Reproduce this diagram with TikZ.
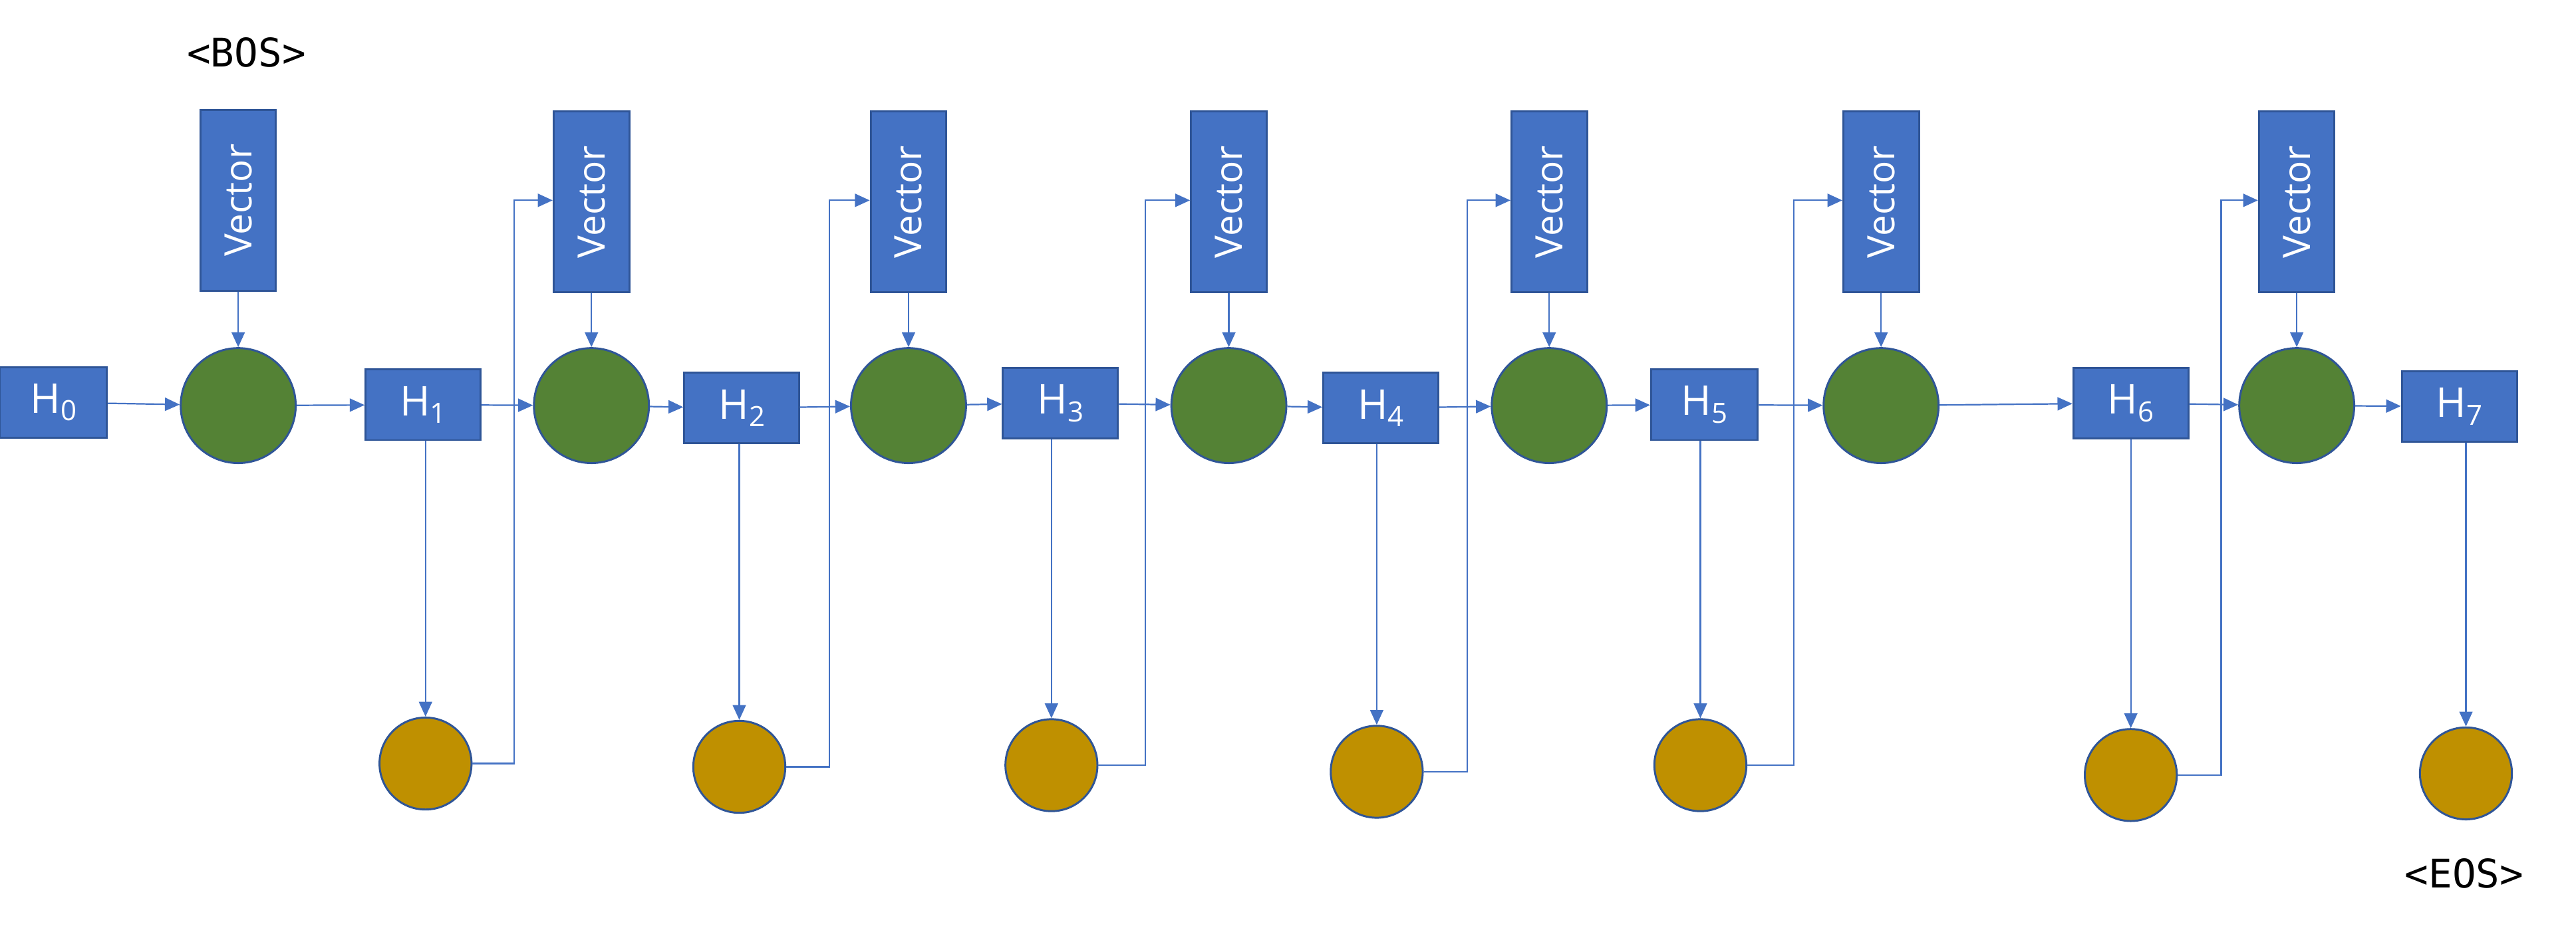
\documentclass[tikz,border=0pt]{standalone}
\usepackage{fontspec}
\setmainfont{Open Sans}
\newfontfamily\monofnt{DejaVu Sans Mono}
\usetikzlibrary{arrows.meta}
\definecolor{bfill}{HTML}{4472C4}
\definecolor{bdraw}{HTML}{2F5597}
\definecolor{gfill}{HTML}{548235}
\definecolor{yfill}{HTML}{BF9000}
\newcommand{\hsub}[1]{H\raisebox{-0.35ex}{\fontsize{17}{17}\selectfont #1}}
\tikzset{
 hbox/.style={draw=bdraw,line width=1.2pt,fill=bfill,minimum width=70pt,minimum height=43pt,inner sep=0pt,text=white,font=\fontsize{25}{25}\selectfont},
 vbox/.style={draw=bdraw,line width=1.2pt,fill=bfill,inner sep=0pt,text=white,font=\fontsize{23}{23}\selectfont,rotate=90,minimum width=110pt,minimum height=46pt},
 gnode/.style={circle,draw=bdraw,line width=1.2pt,fill=gfill,minimum size=70pt,inner sep=0pt},
 ynode/.style={circle,draw=bdraw,line width=1.2pt,fill=yfill,minimum size=56pt,inner sep=0pt},
 conn/.style={draw=bfill,line width=0.9pt,-{Triangle[length=9pt,width=8pt]}},
 lbl/.style={font=\monofnt\fontsize{24}{24}\selectfont}
}
\begin{document}
\begin{tikzpicture}[x=1pt,y=-1pt]
\useasboundingbox (0,0) rectangle (1568,571);
\node[lbl] (bos) at (150,32) {<BOS>};
\node[lbl] (eos) at (1500,532) {<EOS>};
\node[hbox,minimum width=65pt] (h0) at (32.5,245) {\hsub{0}};
\node[hbox] (h1) at (257.5,246.5) {\hsub{1}};
\node[hbox] (h2) at (451.5,248.5) {\hsub{2}};
\node[hbox] (h3) at (645.5,245.5) {\hsub{3}};
\node[hbox] (h4) at (840.5,248.5) {\hsub{4}};
\node[hbox,minimum width=65pt] (h5) at (1037.5,246.5) {\hsub{5}};
\node[hbox] (h6) at (1297,245.5) {\hsub{6}};
\node[hbox] (h7) at (1497,247.5) {\hsub{7}};
\foreach \i/\x/\y in {1/145/122,2/360/123,3/553/123,4/748/123,5/943/123,6/1145/123,7/1398/123}{
 \node[vbox] (v\i) at (\x,\y) {Vector};
 \node[gnode] (g\i) at (\x,247) {};
 \draw[conn] (v\i) -- (g\i);
}
\foreach \i/\x/\y in {1/259/465,2/450/467,3/640/466,4/838/470,5/1035/466,6/1297/472,7/1501/471}{
 \node[ynode] (y\i) at (\x,\y) {};
 \draw[conn] (h\i.south -| y\i) -- (y\i);
}
\draw[conn] (h0) -- (g1);
\draw[conn] (g1) -- (h1);
\draw[conn] (h1) -- (g2); \draw[conn] (g2) -- (h2);
\draw[conn] (h2) -- (g3); \draw[conn] (g3) -- (h3);
\draw[conn] (h3) -- (g4); \draw[conn] (g4) -- (h4);
\draw[conn] (h4) -- (g5); \draw[conn] (g5) -- (h5);
\draw[conn] (h5) -- (g6); \draw[conn] (g6) -- (h6);
\draw[conn] (h6) -- (g7); \draw[conn] (g7) -- (h7);
\foreach \i/\j/\c in {1/2/313,2/3/505,3/4/697,4/5/893,5/6/1092,6/7/1352}{
 \draw[conn] (y\i.east) -- (\c,0 |- y\i.east) -- (\c,122) -- (v\j.north |- 0,122);
}
\end{tikzpicture}
\end{document}
